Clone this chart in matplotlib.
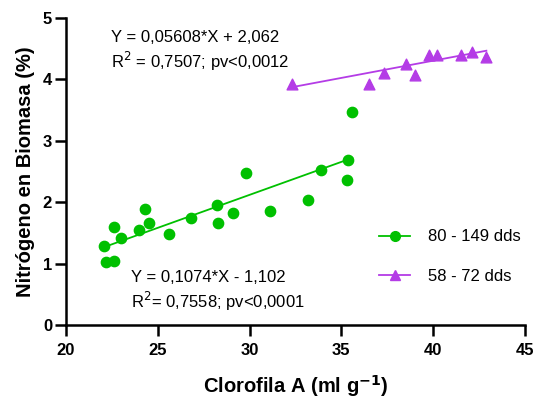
import numpy as np
import matplotlib
matplotlib.use("Agg")
import matplotlib.pyplot as plt

plt.rcParams["font.family"] = ["Liberation Sans", "DejaVu Sans"]

# 80 - 149 dds
clor_a = [22.05, 22.2, 22.6, 22.6, 23.0, 24.0, 24.3, 24.5, 25.6, 26.8,
          28.2, 28.3, 29.1, 29.8, 31.1, 33.2, 33.9, 35.3, 35.35, 35.6]
nitro_a = [1.28, 1.02, 1.04, 1.60, 1.41, 1.54, 1.89, 1.66, 1.48, 1.75,
           1.96, 1.66, 1.83, 2.47, 1.86, 2.03, 2.53, 2.37, 2.69, 3.47]

# 58 - 72 dds
clor_b = [32.3, 36.5, 37.35, 38.5, 39.0, 39.75, 40.2, 41.5, 42.1, 42.9]
nitro_b = [3.92, 3.93, 4.10, 4.25, 4.08, 4.40, 4.39, 4.40, 4.45, 4.36]

fit_a = (0.1074, -1.102)
fit_b = (0.05608, 2.062)

green = "#00C000"
purple = "#B43CE6"

fig = plt.figure(figsize=(5.34, 4.01), dpi=100)
ax = fig.add_axes([0.1236, 0.1895, 0.8594, 0.7655])

xa = np.array([min(clor_a), max(clor_a)])
xb = np.array([min(clor_b), max(clor_b)])

ax.scatter(clor_a, nitro_a, s=55, color=green, zorder=3)
ax.plot(xa, fit_a[0] * xa + fit_a[1], color=green, lw=1.3)
ax.scatter(clor_b, nitro_b, s=60, marker="^", color=purple, zorder=3)
ax.plot(xb, fit_b[0] * xb + fit_b[1], color=purple, lw=1.3)

# legend handles
ax.plot([], [], color=green, lw=1.3, marker="o", ms=7, label="80 - 149 dds")
ax.plot([], [], color=purple, lw=1.3, marker="^", ms=7, label="58 - 72 dds")
ax.legend(loc="center left", bbox_to_anchor=(0.667, 0.223), borderaxespad=0,
          frameon=False, fontsize=12, handlelength=1.9, handletextpad=1.08,
          labelspacing=1.45)

ax.text(0.098, 0.938, "Y = 0,05608*X + 2,062", transform=ax.transAxes, fontsize=12, va="center")
ax.text(0.098, 0.857, "R$^2$ = 0,7507; pv<0,0012", transform=ax.transAxes, fontsize=12, va="center")
ax.text(0.1416, 0.156, "Y = 0,1074*X - 1,102", transform=ax.transAxes, fontsize=12, va="center")
ax.text(0.1416, 0.078, "R$^2$= 0,7558; pv<0,0001", transform=ax.transAxes, fontsize=12, va="center")

ax.set_xlim(20, 45)
ax.set_ylim(0, 5)
ax.set_xticks([20, 25, 30, 35, 40, 45])
ax.set_yticks([0, 1, 2, 3, 4, 5])
for s in ["top", "right"]:
    ax.spines[s].set_visible(False)
for s in ["left", "bottom"]:
    ax.spines[s].set_linewidth(1.8)
ax.tick_params(width=1.8, length=8, labelsize=12)
ax.tick_params(axis="x", pad=5)
ax.tick_params(axis="y", pad=2)
for lab in ax.get_xticklabels() + ax.get_yticklabels():
    lab.set_fontweight("bold")

ax.set_xlabel("Clorofila A (ml g$^{\\mathbf{-1}}$)", fontsize=14.5, fontweight="bold", labelpad=11)
ax.set_ylabel("Nitrógeno en Biomasa (%)", fontsize=14.5, fontweight="bold", labelpad=6)

fig.savefig("out.png", dpi=100)
